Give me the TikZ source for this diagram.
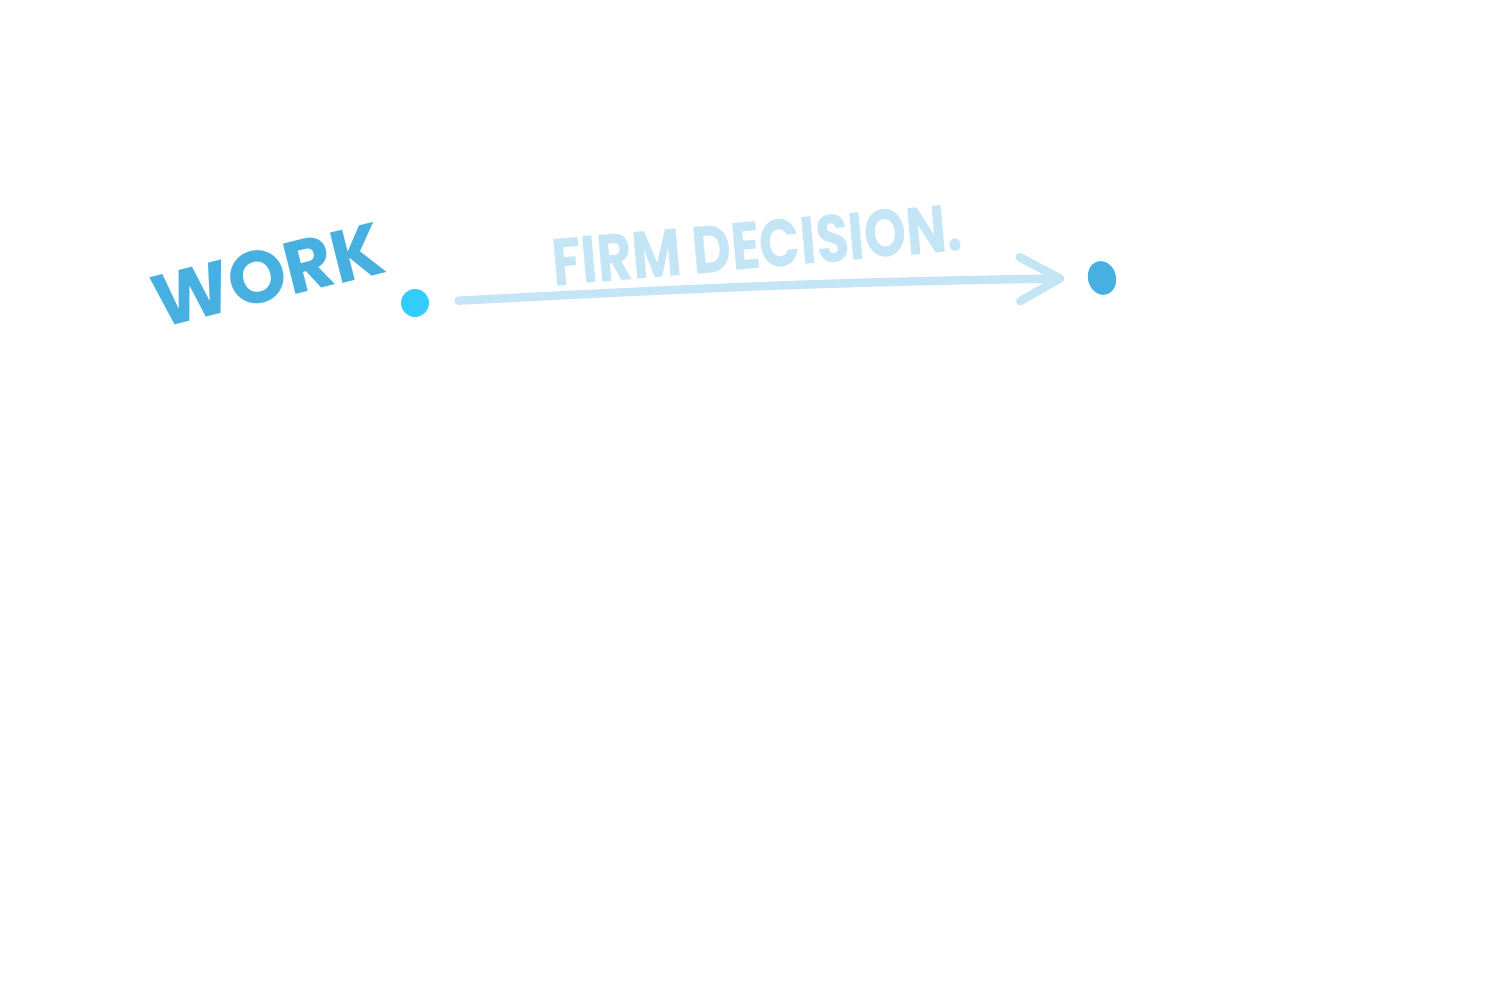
\documentclass[tikz,border=0pt]{standalone}
\usepackage{fontspec}
\newfontfamily\hand{Poppins}
\usetikzlibrary{arrows.meta, shapes.geometric}

\definecolor{inkblue}{HTML}{47B0E0}
\definecolor{skyblue}{HTML}{33CCFF}
\definecolor{paleblue}{HTML}{C4E5F5}

\begin{document}
\begin{tikzpicture}[
		dot/.style = {fill = #1, inner sep = 0pt},
		flow/.style = {paleblue, line width = 2.4pt, line cap = round,
			-{Straight Barb[length = 4mm, width = 4.4mm, round]}},
		handtext/.style = {text = #1, font = \hand\bfseries, inner sep = 0pt}
	]
			\useasboundingbox (0,0) rectangle (15,9.97);
		
			\node [dot = skyblue, circle, minimum size = 0.28cm] (work) at (4.15,6.94) {};
			\node [dot = inkblue, ellipse, minimum width = 0.28cm, minimum height = 0.34cm, rotate = 15] (decision) at (11.02,7.19) {};
			
			\node [handtext = inkblue, rotate = 14, font = \hand\bfseries\fontsize{21}{24}\selectfont] (worklabel) at (2.68,7.22) {WORK};
			\node [handtext = paleblue, rotate = 5, font = \hand\bfseries\fontsize{19}{23}\selectfont] (decisionlabel) at (7.57,7.52) {\scalebox{0.8}[1]{FIRM DECISION.}};
			
			\draw [flow, shorten <= 0.29cm, shorten >= 0.23cm] (work) to [out = 3, in = 180] (decision);
		\end{tikzpicture}
\end{document}
